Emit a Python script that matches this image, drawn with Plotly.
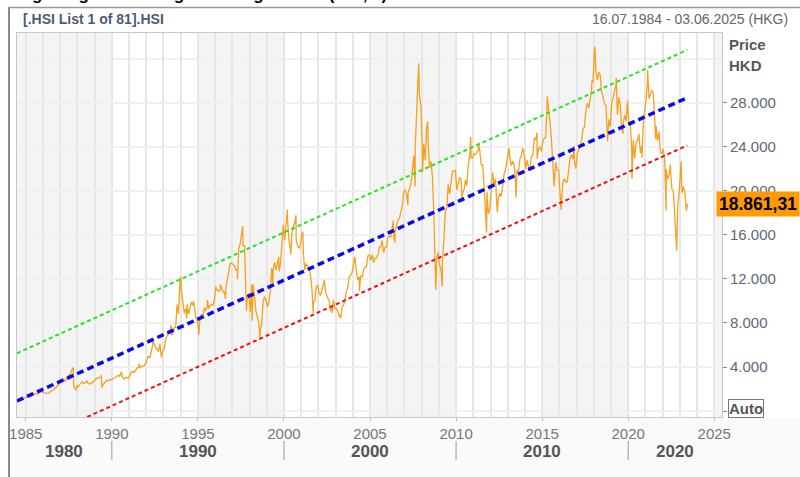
import plotly.graph_objects as go

# ---------------- data (HKD) ----------------
hsi_1984 = [950, 1040, 1010, 1080, 1150, 1200]  # Jul-Dec
hsi_1985 = [1300, 1330, 1300, 1450, 1500, 1550, 1600, 1580, 1560, 1700, 1740, 1750]
hsi_1986 = [1650, 1650, 1600, 1600, 1700, 1800, 1900, 1950, 2050, 2200, 2450, 2560]
hsi_1987 = [2650, 2800, 2900, 2700, 2950, 3200, 3300, 3500, 3850, 2200, 2000, 2300]
hsi_1988 = [2200, 2400, 2500, 2650, 2500, 2600, 2650, 2500, 2450, 2550, 2650, 2690]
hsi_1989 = [2900, 2950, 3000, 3050, 3100, 2300, 2500, 2650, 2800, 2750, 2850, 2840]
hsi_1990 = [2900, 2950, 3050, 3150, 3250, 3150, 3400, 3050, 2900, 3050, 3050, 3025]
hsi_1991 = [3200, 3500, 3600, 3500, 3700, 3900, 3950, 3900, 4050, 4100, 4100, 4300]
hsi_1992 = [4700, 5000, 4800, 5300, 6000, 6000, 5800, 5600, 5400, 6100, 5000, 5500]
hsi_1993 = [5600, 6500, 6900, 7200, 7300, 6900, 7000, 7600, 7600, 9700, 8800, 11900]
hsi_1994 = [11000, 9600, 8900, 9300, 9700, 8800, 9400, 9900, 9600, 9500, 8500, 8200]
hsi_1995 = [7500, 8500, 8800, 8600, 9400, 9100, 9500, 9300, 9600, 9700, 9600, 10100]
hsi_1996 = [11300, 11000, 10900, 11000, 11200, 10800, 10800, 11200, 11900, 12700, 13400, 13450]
hsi_1997 = [13300, 13200, 12800, 12900, 14800, 15200, 16400, 15000, 15000, 10600, 10500, 10700]
hsi_1998 = [9000, 11500, 11500, 10300, 9000, 8500, 8000, 7300, 7900, 10000, 10400, 10000]
hsi_1999 = [9500, 9900, 10900, 13000, 12800, 13500, 12800, 13500, 12700, 13300, 15000, 16900]
hsi_2000 = [15500, 17200, 17400, 15500, 14700, 16100, 16800, 17100, 15600, 15000, 14800, 15100]
hsi_2001 = [16100, 14400, 12800, 13400, 13200, 13000, 12300, 11100, 9950, 10000, 11300, 11400]
hsi_2002 = [10700, 10500, 11000, 11500, 11300, 10600, 10300, 10000, 9100, 9400, 10100, 9300]
hsi_2003 = [9300, 9100, 8600, 8700, 9500, 9600, 10000, 10900, 11200, 12200, 12300, 12600]
hsi_2004 = [13300, 13900, 12700, 11900, 12200, 12300, 12200, 12800, 13100, 13100, 14100, 14200]
hsi_2005 = [13700, 14200, 13500, 13900, 13900, 14200, 14900, 14900, 15400, 14400, 14900, 14900]
hsi_2006 = [15800, 15900, 15800, 16700, 15900, 16300, 16900, 17400, 17500, 18300, 18700, 19960]
hsi_2007 = [20100, 19700, 19800, 20300, 20600, 21800, 23200, 23900, 27100, 31350, 28600, 27800]
hsi_2008 = [23500, 24300, 22800, 25800, 24500, 22100, 22700, 21300, 18000, 13900, 13900, 14400]
hsi_2009 = [13300, 12800, 13600, 15500, 18200, 18400, 20600, 19700, 20900, 21800, 21800, 21900]
hsi_2010 = [20100, 20600, 21200, 21100, 19800, 20100, 21000, 20500, 22400, 23100, 23000, 23000]
hsi_2011 = [23400, 23300, 23500, 23700, 23700, 22400, 22400, 20500, 17600, 19900, 17900, 18400]
hsi_2012 = [20400, 21700, 20500, 21100, 18600, 19400, 19800, 19500, 20800, 21600, 22000, 22700]
hsi_2013 = [23700, 23000, 22300, 22700, 22400, 20800, 21900, 21700, 22900, 23200, 23900, 23300]
hsi_2014 = [22000, 22800, 22200, 22100, 23100, 23200, 24800, 24700, 22900, 23900, 24000, 23600]
hsi_2015 = [24500, 24800, 24900, 28100, 27400, 26300, 24600, 21700, 20800, 22600, 21900, 21900]
hsi_2016 = [19700, 19100, 20800, 21100, 20800, 20800, 21900, 23000, 23300, 22900, 22800, 22000]
hsi_2017 = [23400, 23700, 24100, 24600, 25700, 25800, 27300, 27970, 27550, 28250, 29180, 29920]
hsi_2018 = [32900, 30800, 30100, 30800, 30500, 28950, 28580, 27890, 27790, 24980, 26500, 25850]
hsi_2019 = [27940, 28630, 29050, 29700, 26900, 28540, 27780, 25720, 26090, 26900, 26350, 28190]
hsi_2020 = [26310, 26130, 23600, 24640, 22960, 24430, 24600, 25180, 23460, 24100, 26340, 27230]
hsi_2021 = [28280, 30000, 28380, 28720, 29150, 28830, 25960, 25880, 24580, 25380, 23480, 23400]
hsi_2022 = [23800, 22710, 21990, 21090, 21420, 21860, 20160, 19950, 17220, 14690, 18600, 19780]
hsi_2023 = [21800, 19800, 20400, 19900, 18200, 18861]  # Jan-Jun

# intra-month swings (highs / lows)
extreme_dates = [1986.70, 1987.76, 1987.93, 1988.55, 1989.38, 1989.43, 1990.55, 1991.60,
                 1992.38, 1992.88, 1993.45, 1994.01, 1994.35, 1994.75, 1995.05, 1995.55,
                 1996.30, 1996.60, 1997.30, 1997.60, 1997.82, 1998.15, 1998.45, 1998.60,
                 1999.35, 1999.70, 2000.20, 2000.40, 2000.70, 2001.10, 2001.70, 2002.35,
                 2002.80, 2003.30, 2004.10, 2004.38, 2005.70, 2006.35, 2006.45, 2007.20,
                 2007.62, 2007.83, 2008.05, 2008.35, 2008.82, 2009.20, 2010.35, 2010.85,
                 2011.30, 2011.77, 2012.40, 2013.08, 2013.48, 2014.70, 2015.30, 2015.70,
                 2016.10, 2016.85, 2017.90, 2018.07, 2018.80, 2019.30, 2019.70, 2020.22,
                 2020.80, 2021.13, 2021.60, 2022.20, 2022.45, 2022.82, 2023.07]
extreme_values = [2150, 3950, 1900, 2780, 3300, 2100, 3550, 4300,
                  6400, 4900, 7800, 12200, 8400, 10000, 6900, 10100,
                  11500, 10200, 12000, 16800, 9100, 8200, 8700, 6600,
                  11500, 14000, 18300, 14200, 17800, 16300, 8900, 11900,
                  8900, 8400, 14000, 10900, 15500, 17300, 15300, 18700,
                  20400, 31600, 21700, 26300, 11000, 11300, 19000, 24900,
                  24400, 16200, 18100, 23900, 19400, 25300, 28600, 20400,
                  18300, 24100, 30100, 33100, 24500, 30300, 25200, 21100,
                  23000, 31000, 24700, 18200, 22400, 14600, 22700]

# regression channel (start / end)
trend_dates = [1984.49, 2023.43]
trend_mid = [910, 28480]
trend_upper = [5250, 32820]
trend_lower = [-3430, 24140]

last_price_text = "18.861,31"
last_price = 18861

y_tickvals = [0, 4000, 8000, 12000, 16000, 20000, 24000, 28000]
y_ticktext = ["", "4.000", "8.000", "12.000", "16.000", "20.000", "24.000", "28.000"]
x_tickvals = [1985, 1990, 1995, 2000, 2005, 2010, 2015, 2020, 2025]
decade_labels = ["1980", "1990", "2000", "2010", "2020"]
decade_centers = [1987.2, 1995, 2005, 2015, 2022.7]
decade_separators = [1990, 2000, 2010, 2020]
shaded_bands = [(1984.0, 1990), (1995, 2000), (2005, 2010), (2015, 2020), (2025, 2026)]

# ---------------- build series ----------------
yearly = [(1984, hsi_1984, 7)] + [(y, globals()[f"hsi_{y}"], 1) for y in range(1985, 2023)] + [(2023, hsi_2023, 1)]
pts = []
for yr, vals, m0 in yearly:
    for i, v in enumerate(vals):
        pts.append((yr + (m0 + i - 0.5) / 12.0, v))
pts += list(zip(extreme_dates, extreme_values))
pts.sort()
xs = [p[0] for p in pts]
ys = [p[1] for p in pts]

# ---------------- geometry ----------------
W, H = 800, 477
L, R, T, B = 17, 722, 33, 417
X0, X1 = 1984.49, 2025.45
Y0, Y1 = -545, 34360


def pxp(xpix):
    return (xpix - L) / (R - L)


def pyp(ypix):
    return (B - ypix) / (B - T)


def yr2p(yr):
    return (yr - X0) / (X1 - X0)


FONT = "Liberation Sans, Arial, sans-serif"
GRID_V = "#e6e6e6"
GRID_H = "#f0f0f0"

fig = go.Figure()
fig.add_trace(go.Scatter(x=xs, y=ys, mode="lines",
                         line=dict(color="#f8a01e", width=1.3), hoverinfo="skip"))
fig.add_trace(go.Scatter(x=trend_dates, y=trend_upper, mode="lines",
                         line=dict(color="#22e622", width=2, dash="4px,3px"), hoverinfo="skip"))
fig.add_trace(go.Scatter(x=trend_dates, y=trend_lower, mode="lines",
                         line=dict(color="#ee1111", width=2, dash="4px,3px"), hoverinfo="skip"))
fig.add_trace(go.Scatter(x=trend_dates, y=trend_mid, mode="lines",
                         line=dict(color="#0a0ae8", width=3.5, dash="7px,4px"), hoverinfo="skip"))

shapes = []
for a, b in shaded_bands:
    shapes.append(dict(type="rect", xref="x", yref="paper", x0=max(a, X0), x1=min(b, X1), y0=0, y1=1,
                       fillcolor="#f4f4f4", line=dict(width=0), layer="below"))
# gridline at 32000 (no label)
shapes.append(dict(type="line", xref="paper", yref="y", x0=0, x1=1, y0=32000, y1=32000,
                   line=dict(color=GRID_H, width=2), layer="below"))
# bottom strip
shapes.append(dict(type="rect", xref="paper", yref="paper", x0=pxp(10), x1=pxp(800),
                   y0=pyp(477), y1=pyp(418), fillcolor="#fafafa", line=dict(width=0), layer="below"))
# outer borders
shapes.append(dict(type="line", xref="paper", yref="paper", x0=pxp(9), x1=pxp(9), y0=pyp(7), y1=pyp(477),
                   line=dict(color="#8a8a8a", width=2)))
shapes.append(dict(type="line", xref="paper", yref="paper", x0=pxp(8), x1=pxp(800), y0=pyp(7.5), y1=pyp(7.5),
                   line=dict(color="#999999", width=1.5)))
for s in decade_separators:
    shapes.append(dict(type="line", xref="paper", yref="paper", x0=yr2p(s), x1=yr2p(s),
                       y0=pyp(441), y1=pyp(460), line=dict(color="#999999", width=1)))

annotations = []
annotations.append(dict(text="<b>Hang Seng Index Long-term Regression (HSI, 1)</b>", xref="paper", yref="paper",
                        x=pxp(-2), y=pyp(5.5), xanchor="left", yanchor="bottom", showarrow=False,
                        font=dict(family=FONT, size=17, color="#000000")))
annotations.append(dict(text="<b>[.HSI List 1 of 81].HSI</b>", xref="paper", yref="paper",
                        x=pxp(21), y=pyp(19), xanchor="left", yanchor="middle", showarrow=False,
                        font=dict(family=FONT, size=14, color="#4e5a78")))
annotations.append(dict(text="16.07.1984 - 03.06.2025 (HKG)", xref="paper", yref="paper",
                        x=pxp(590), y=pyp(19), xanchor="left", yanchor="middle", showarrow=False,
                        font=dict(family=FONT, size=14, color="#666666")))
annotations.append(dict(text="<b>Price</b>", xref="paper", yref="paper",
                        x=pxp(727), y=pyp(44), xanchor="left", yanchor="middle", showarrow=False,
                        font=dict(family=FONT, size=15, color="#585858")))
annotations.append(dict(text="<b>HKD</b>", xref="paper", yref="paper",
                        x=pxp(727), y=pyp(65), xanchor="left", yanchor="middle", showarrow=False,
                        font=dict(family=FONT, size=15, color="#585858")))
annotations.append(dict(text="<b>Auto</b>", xref="paper", yref="paper",
                        x=pxp(728), y=pyp(408), xanchor="left", yanchor="middle", showarrow=False,
                        bgcolor="#ffffff", bordercolor="#777777", borderwidth=1, borderpad=0,
                        font=dict(family=FONT, size=15, color="#555555")))
annotations.append(dict(text="<b>" + last_price_text + "</b>", xref="paper", yref="y",
                        x=pxp(716), y=last_price, xanchor="left", yanchor="middle", showarrow=False,
                        bgcolor="#ff9a00", borderpad=2,
                        font=dict(family=FONT, size=17.5, color="#000000")))
for lab, c in zip(decade_labels, decade_centers):
    annotations.append(dict(text="<b>" + lab + "</b>", xref="paper", yref="paper",
                            x=yr2p(c), y=pyp(451), xanchor="center", yanchor="middle", showarrow=False,
                            font=dict(family=FONT, size=17, color="#555555")))

fig.update_layout(
    width=W, height=H,
    margin=dict(l=L, r=W - R, t=T, b=H - B, autoexpand=False),
    paper_bgcolor="#ffffff", plot_bgcolor="#ffffff",
    showlegend=False,
    shapes=shapes, annotations=annotations,
    xaxis=dict(range=[X0, X1], tickmode="array", tickvals=x_tickvals,
               ticktext=[str(v) for v in x_tickvals],
               showgrid=True, gridcolor=GRID_V, gridwidth=2,
               minor=dict(tickmode="linear", tick0=1985, dtick=1, showgrid=True,
                          gridcolor=GRID_V, gridwidth=2),
               ticks="outside", ticklen=3, tickcolor="#bbbbbb",
               showline=True, linecolor="#c8c8c8", linewidth=1, mirror=True,
               zeroline=False, tickfont=dict(family=FONT, size=15, color="#777777")),
    yaxis=dict(range=[Y0, Y1], side="right", tickmode="array", tickvals=y_tickvals,
               ticktext=y_ticktext, showgrid=True, gridcolor=GRID_H, gridwidth=2,
               ticks="outside", ticklen=4, tickcolor="#888888",
               showline=True, linecolor="#c8c8c8", linewidth=1, mirror=True,
               zeroline=False, tickfont=dict(family=FONT, size=15, color="#5f6676")),
)

fig.write_html("out.html", config={"displayModeBar": False, "staticPlot": True},
               post_script="document.body.style.margin='0';document.body.style.overflow='hidden';")
